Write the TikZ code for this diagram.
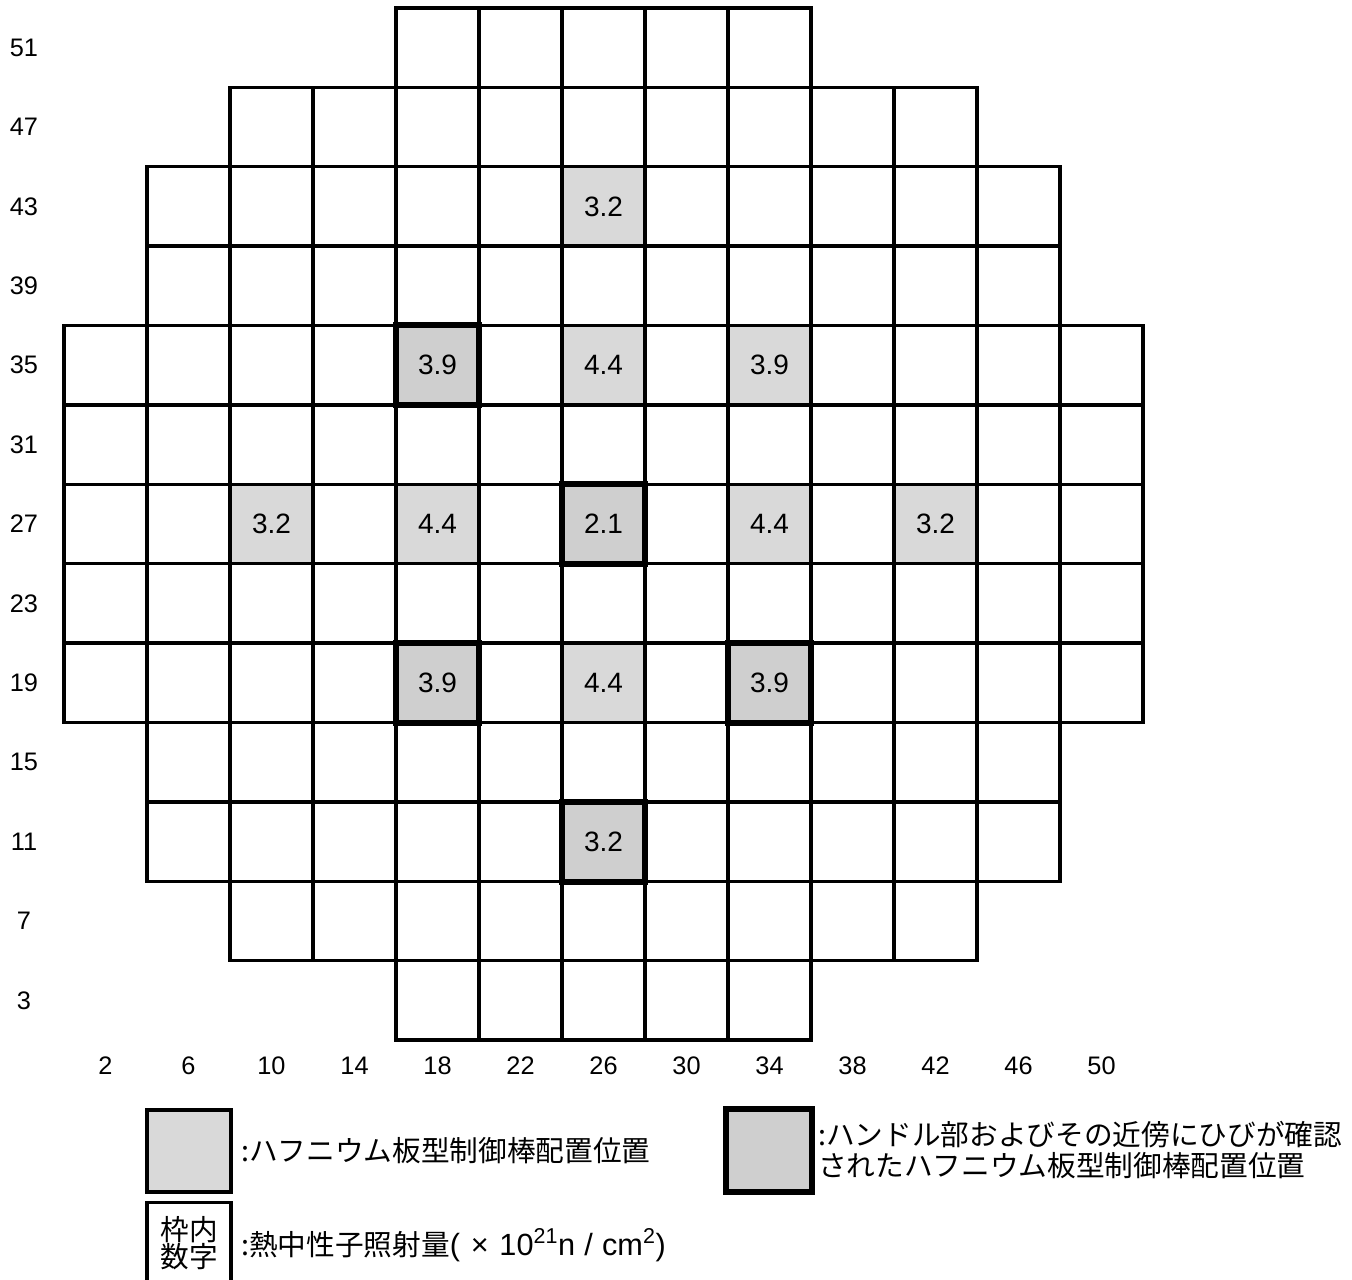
\documentclass[tikz,border=0pt]{standalone}
\usepackage{fontspec}
\setmainfont{Liberation Sans}
\newfontfamily\jp{Noto Sans CJK JP}
\begin{document}
\begin{tikzpicture}[x=0.75pt,y=-0.75pt,
  gridline/.style={draw=black,line width=2.5pt},
  rodcell/.style={fill=black!15, minimum width=62.25pt, minimum height=59.54pt, inner sep=0pt, font=\fontsize{21}{24}\selectfont},
  crackcell/.style={rodcell, fill=black!19},
  crackframe/.style={draw=black, line width=4.5pt},
  axislbl/.style={font=\fontsize{19}{22}\selectfont, inner sep=0pt},
  legendtxt/.style={font=\jp\fontsize{21.5}{23}\selectfont, inner sep=0pt, anchor=west, align=left},
]
\useasboundingbox (0,0) rectangle (1352,1280);
\def\cw{83}\def\ch{79.385}
% hafnium rod cells (shaded)
\node[rodcell]   (h43-26) at ({64+6.5*\cw},{8+2.5*\ch}) {3.2};
\node[crackcell] (h35-18) at ({64+4.5*\cw},{8+4.5*\ch}) {3.9};
\node[rodcell]   (h35-26) at ({64+6.5*\cw},{8+4.5*\ch}) {4.4};
\node[rodcell]   (h35-34) at ({64+8.5*\cw},{8+4.5*\ch}) {3.9};
\node[rodcell]   (h27-10) at ({64+2.5*\cw},{8+6.5*\ch}) {3.2};
\node[rodcell]   (h27-18) at ({64+4.5*\cw},{8+6.5*\ch}) {4.4};
\node[crackcell] (h27-26) at ({64+6.5*\cw},{8+6.5*\ch}) {2.1};
\node[rodcell]   (h27-34) at ({64+8.5*\cw},{8+6.5*\ch}) {4.4};
\node[rodcell]   (h27-42) at ({64+10.5*\cw},{8+6.5*\ch}) {3.2};
\node[crackcell] (h19-18) at ({64+4.5*\cw},{8+8.5*\ch}) {3.9};
\node[rodcell]   (h19-26) at ({64+6.5*\cw},{8+8.5*\ch}) {4.4};
\node[crackcell] (h19-34) at ({64+8.5*\cw},{8+8.5*\ch}) {3.9};
\node[crackcell] (h11-26) at ({64+6.5*\cw},{8+10.5*\ch}) {3.2};
% grid
\foreach \j/\a/\b in {0/4/8,1/2/10,2/1/11,3/1/11,4/0/12,5/0/12,6/0/12,7/0/12,8/0/12,9/1/11,10/1/11,11/2/10,12/4/8}{
  \foreach \i in {\a,...,\b}{
    \draw[gridline] ({64+\i*\cw},{8+\j*\ch}) rectangle ++(\cw,\ch);
  }
}
% thick frames for cracked rods
\foreach \n in {h35-18,h27-26,h19-18,h19-34,h11-26}{
  \draw[crackframe] (\n.north west) rectangle (\n.south east);
}
% axis labels
\foreach \j/\t in {0/51,1/47,2/43,3/39,4/35,5/31,6/27,7/23,8/19,9/15,10/11,11/7,12/3}{
  \node[axislbl] (row\t) at (24,{8+(\j+0.5)*\ch}) {\t};
}
\foreach \i/\t in {0/2,1/6,2/10,3/14,4/18,5/22,6/26,7/30,8/34,9/38,10/42,11/46,12/50}{
  \node[axislbl] (col\t) at ({64+(\i+0.5)*\cw},1066) {\t};
}
% legend
\node[rodcell, draw=black, line width=2.5pt, minimum width=63pt, minimum height=61.5pt] (lgbox1) at (189,1151) {};
\node[legendtxt] (lgtxt1) at (241,1151) {:ハフニウム板型制御棒配置位置};
\node[crackcell, crackframe, minimum width=64.5pt, minimum height=62pt] (lgbox2) at (769,1150.5) {};
\node[legendtxt] (lgtxt2) at (818,1150) {:ハンドル部およびその近傍にひびが確認\\されたハフニウム板型制御棒配置位置};
\node[draw=black, line width=2.5pt, minimum width=63pt, minimum height=80pt, inner sep=0pt] (lgbox3) at (189,1256) {};
\node[font=\jp\fontsize{21.5}{20.3}\selectfont, align=center, inner sep=0pt] (lgbox3txt) at (189,1243) {枠内\\数字};
\node[legendtxt] (lgtxt3) at (241,1245) {:熱中性子照射量{\rmfamily\fontsize{23}{26}\selectfont(\hspace{0.35em}×\hspace{0.35em}10\textsuperscript{21}n\hspace{0.3em}/\hspace{0.3em}cm\textsuperscript{2})}};
\end{tikzpicture}
\end{document}
